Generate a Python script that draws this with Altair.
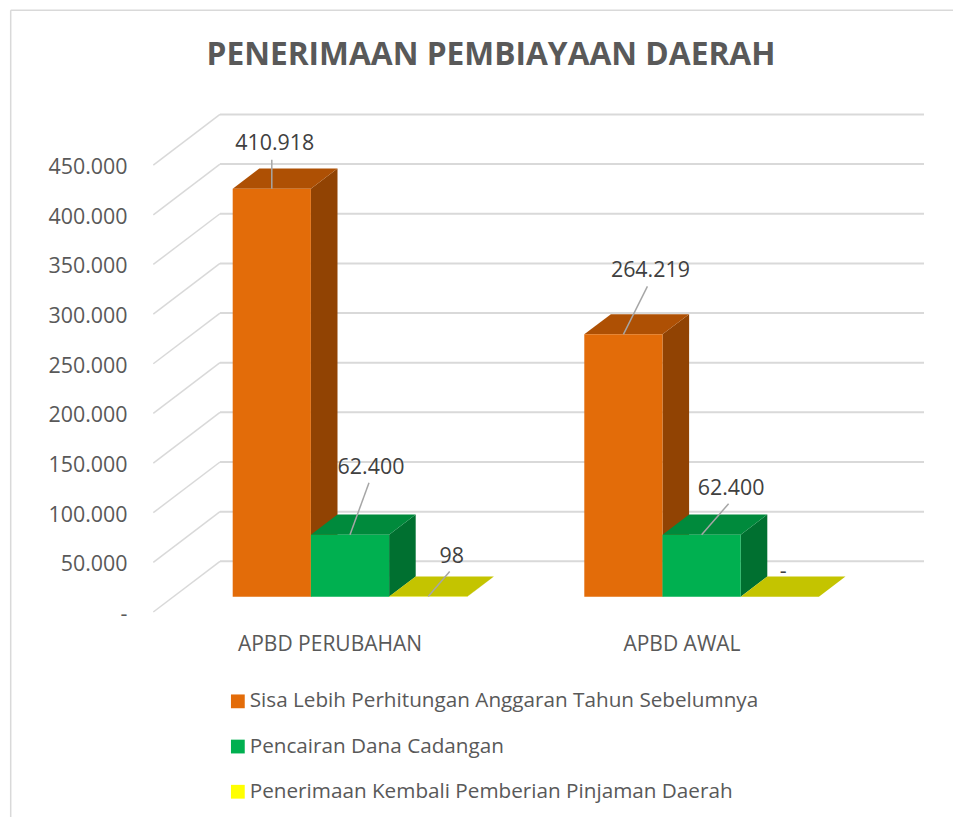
import altair as alt
import pandas as pd

TITLE = "PENERIMAAN PEMBIAYAAN DAERAH"
categories = ["APBD PERUBAHAN", "APBD AWAL"]
series = [
    "Sisa Lebih Perhitungan Anggaran Tahun Sebelumnya",
    "Pencairan Dana Cadangan",
    "Penerimaan Kembali Pemberian Pinjaman Daerah",
]
values_perubahan = [410918, 62400, 98]
values_awal = [264219, 62400, 0]
ticks = [0, 50000, 100000, 150000, 200000, 250000, 300000, 350000, 400000, 450000]

front_colors = ["#E36C09", "#00B050", "#FFFF00"]
side_colors = ["#914303", "#007030", "#A8A800"]
top_colors = ["#AE5004", "#008A3C", "#C4C400"]

FONT = "Open Sans"
TEXT = "#595959"
LABEL = "#404040"
GRID = "#D9D9D9"

# pixel geometry of the fake 3D projection (image coordinates)
W, H = 945, 809
PXU = 1000 / 0.993            # value units per pixel
Y0 = 612.0                    # image y of value 0 on the front plane
ydom = [(Y0 - (8 + H)) * PXU, (Y0 - 8) * PXU]
group_x = [232.7, 584.3]
bar_w = 78.2
bar_lift = 15.3
bar_dx, bar_dy = 26.6, 20.2
wall_l, wall_r, front_l = 220.0, 924.0, 153.3
wall_dy = 50.7

label_off = {  # label centre, leader start relative to bar's top-front centre
    (0, 0): (3, -47, 0, -29), (0, 1): (21, -69, 19, -52), (0, 2): (23.5, -42, 21.5, -25),
    (1, 0): (27, -65, 24, -48), (1, 1): (29.5, -48, 27, -31), (1, 2): (3.5, -27, None, None),
}

xs = alt.Scale(domain=[8, 8 + W], range=[0, W], nice=False, zero=False)
ys = alt.Scale(domain=ydom, nice=False, zero=False)
y_axis = alt.Axis(
    values=ticks, domain=False, ticks=False, grid=False, labelPadding=0, offset=-119, labelOffset=2.5,
    labelFont=FONT, labelFontSize=21.4, labelColor=TEXT, labelLimit=200, title=None,
    labelExpr="datum.value == 0 ? '-' : replace(format(datum.value, ','), ',', '.')")
X = lambda f: alt.X(f, type="quantitative", scale=xs, axis=None)
Y = lambda f: alt.Y(f, type="quantitative", scale=ys, axis=y_axis, title=None)

front, side, top, leaders, labels = [], [], [], [], []
for g, vals in enumerate([values_perubahan, values_awal]):
    for s, v in enumerate(vals):
        l = group_x[g] + s * bar_w
        r = l + bar_w
        b = bar_lift * PXU
        t = v + b
        d = bar_dy * PXU
        k = f"{g}-{s}"
        front.append(dict(series=series[s], l=l, r=r, y=t, y2=b))
        side += [dict(k=k, fill=side_colors[s], x=r, y=t, y2=b),
                 dict(k=k, fill=side_colors[s], x=r + bar_dx, y=t + d, y2=b + d)]
        top += [dict(k=k, fill=top_colors[s], x=l, x2=r, y=t),
                dict(k=k, fill=top_colors[s], x=l + bar_dx, x2=r + bar_dx, y=t + d)]
        lx, ly, sx, sy = label_off[(g, s)]
        c = (l + r) / 2
        text = f"{v:,}".replace(",", ".") if v else "-"
        labels.append(dict(x=c + lx, y=t - ly * PXU, t=text))
        if sx is not None:
            leaders.append(dict(x=c + sx, x2=c, y=t - sy * PXU, y2=t))

wall = [dict(x=wall_l, x2=wall_r, y=v + wall_dy * PXU, y2=v + wall_dy * PXU) for v in ticks]
diag = [dict(x=front_l, x2=wall_l, y=v, y2=v + wall_dy * PXU) for v in ticks]
frame = [dict(x=10.7, x2=8 + W, y=(Y0 - 10.3) * PXU, y2=(Y0 - 10.3) * PXU),
         dict(x=10.7, x2=10.7, y=(Y0 - 10.3) * PXU, y2=(Y0 - 817) * PXU)]
cats = [dict(x=330.0, y=(Y0 - 643) * PXU, t=categories[0]),
        dict(x=682.0, y=(Y0 - 643) * PXU, t=categories[1])]


def rules(rows, color, width):
    return alt.Chart(pd.DataFrame(rows)).mark_rule(color=color, strokeWidth=width).encode(
        x=X("x"), x2="x2", y=Y("y"), y2="y2")


side_layer = alt.Chart(pd.DataFrame(side)).mark_area(orient="vertical").encode(
    x=X("x"), y=Y("y"), y2="y2", detail="k:N", fill=alt.Fill("fill:N", scale=None))
top_layer = alt.Chart(pd.DataFrame(top)).mark_area(orient="horizontal").encode(
    y=Y("y"), x=X("x"), x2="x2", detail="k:N", fill=alt.Fill("fill:N", scale=None))
front_layer = alt.Chart(pd.DataFrame(front)).mark_rect().encode(
    x=X("l"), x2="r", y=Y("y"), y2="y2",
    color=alt.Color("series:N", sort=series, title=None,
                    scale=alt.Scale(domain=series, range=front_colors),
                    legend=alt.Legend(orient="none", legendX=219.5, legendY=683, padding=0,
                                      direction="vertical", symbolType="square", symbolSize=190,
                                      symbolStrokeWidth=0, labelFont=FONT, labelFontSize=20.7,
                                      labelColor=TEXT, labelLimit=700, rowPadding=23.2,
                                      labelOffset=1.5)))
label_layer = alt.Chart(pd.DataFrame(labels)).mark_text(
    font=FONT, fontSize=21.4, color=LABEL, dy=2).encode(x=X("x"), y=Y("y"), text="t:N")
cat_layer = alt.Chart(pd.DataFrame(cats)).mark_text(
    font=FONT, fontSize=21, color=TEXT, dy=2).encode(x=X("x"), y=Y("y"), text="t:N")

chart = alt.layer(
    rules(frame, GRID, 1.5), rules(wall, GRID, 2), rules(diag, GRID, 1.5),
    side_layer, top_layer, front_layer,
    rules(leaders, "#A6A6A6", 1.5), label_layer, cat_layer,
).properties(
    width=W, height=H, padding=0, autosize=alt.AutoSizeParams(type="none"),
    title=alt.TitleParams(TITLE, font=FONT, fontSize=31.7, fontWeight="bold", color=TEXT,
                          anchor="middle", frame="group", offset=0, dx=10.5, dy=96, baseline="bottom"),
).configure_view(stroke=None)

chart.save("out.html", embed_options={"renderer": "svg", "actions": False})
